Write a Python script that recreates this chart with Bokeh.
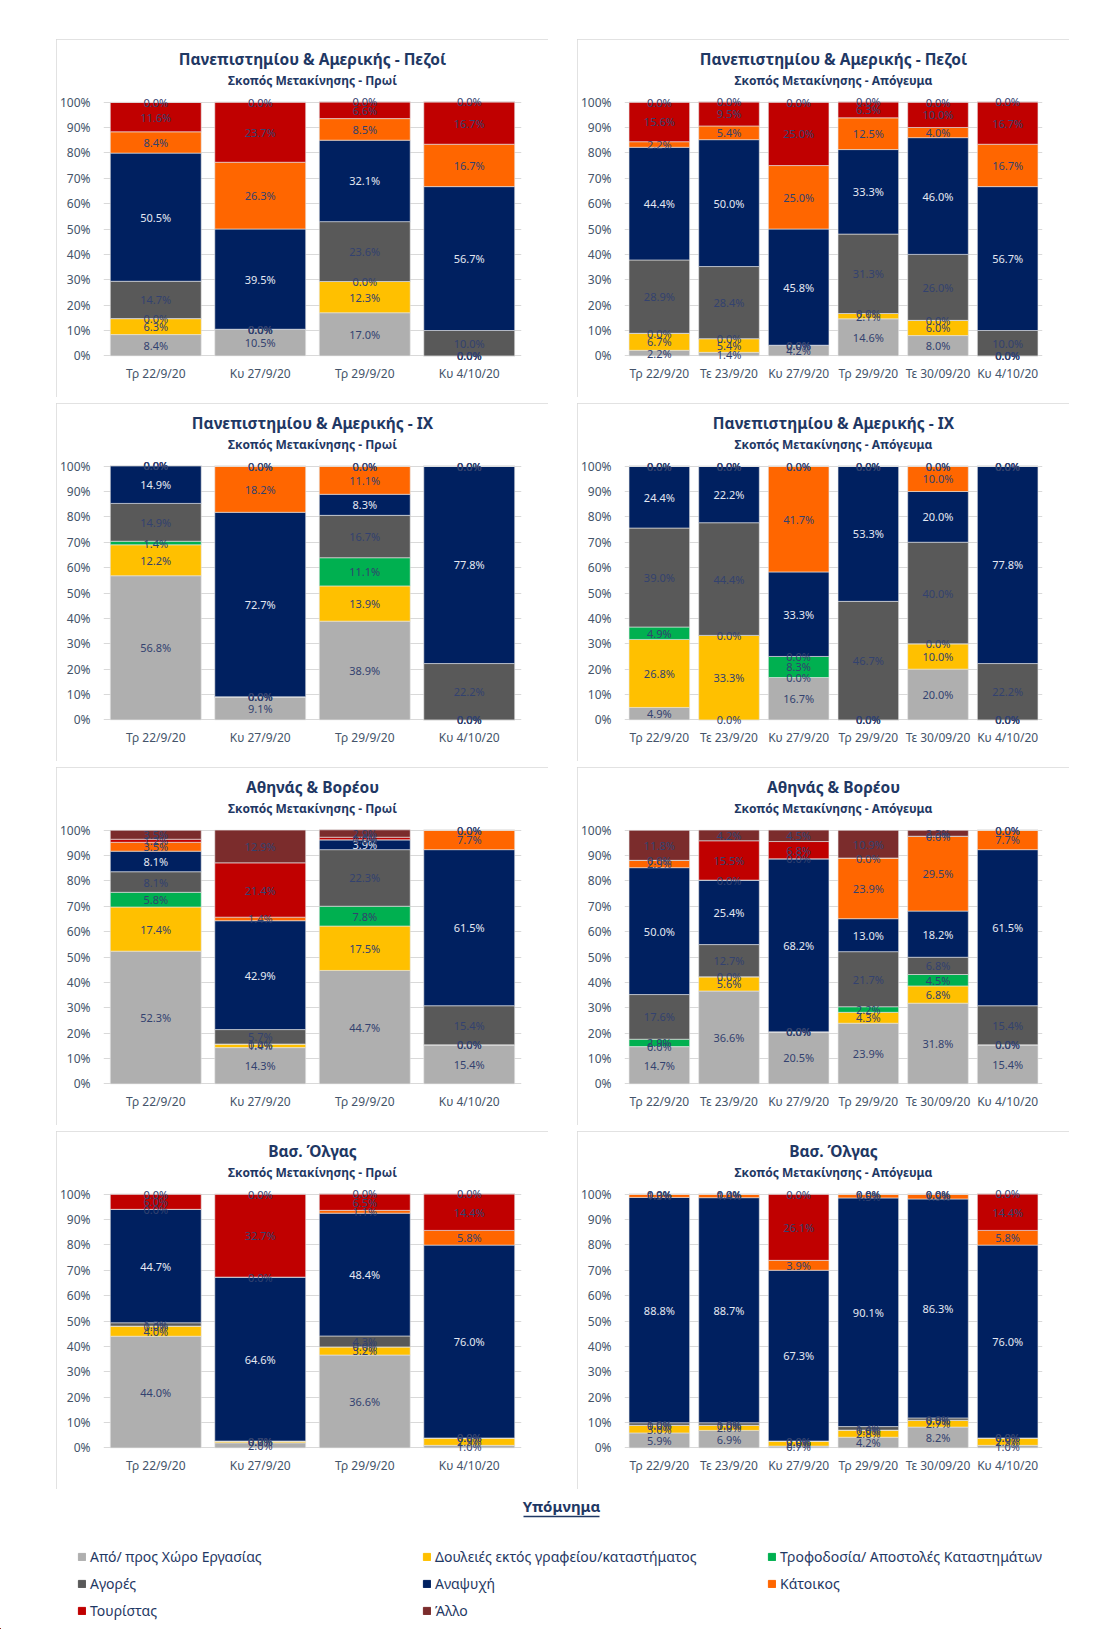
from bokeh.plotting import figure
from bokeh.models import (ColumnDataSource, FactorRange, Range1d, FixedTicker,
                          PrintfTickFormatter, Title, Legend, LegendItem, Spacer)
from bokeh.layouts import row, column
from bokeh.embed import file_html
from bokeh.resources import INLINE
from bokeh.core.properties import value

# ---------------- data ----------------
series = ["Από/ προς Χώρο Εργασίας", "Δουλειές εκτός γραφείου/καταστήματος",
          "Τροφοδοσία/ Αποστολές Καταστημάτων", "Αγορές", "Αναψυχή",
          "Κάτοικος", "Τουρίστας", "Άλλο"]
colors = ["#afafaf", "#ffc000", "#00b050", "#595959", "#002060",
          "#ff6600", "#c00000", "#7b2c2c"]

dates_morning = ["Τρ 22/9/20", "Κυ 27/9/20", "Τρ 29/9/20", "Κυ 4/10/20"]
dates_evening = ["Τρ 22/9/20", "Τε 23/9/20", "Κυ 27/9/20", "Τρ 29/9/20",
                 "Τε 30/09/20", "Κυ 4/10/20"]

# each panel: one list per series (bottom -> top), one value per date
pa_pezoi_proi = [
    [8.4, 10.5, 17.0, 0.0],
    [6.3, 0.0, 12.3, 0.0],
    [0.0, 0.0, 0.0, 0.0],
    [14.7, 0.0, 23.6, 10.0],
    [50.5, 39.5, 32.1, 56.7],
    [8.4, 26.3, 8.5, 16.7],
    [11.6, 23.7, 6.6, 16.7],
    [0.0, 0.0, 0.0, 0.0],
]
pa_pezoi_apogeuma = [
    [2.2, 1.4, 4.2, 14.6, 8.0, 0.0],
    [6.7, 5.4, 0.0, 2.1, 6.0, 0.0],
    [0.0, 0.0, 0.0, 0.0, 0.0, 0.0],
    [28.9, 28.4, 0.0, 31.3, 26.0, 10.0],
    [44.4, 50.0, 45.8, 33.3, 46.0, 56.7],
    [2.2, 5.4, 25.0, 12.5, 4.0, 16.7],
    [15.6, 9.5, 25.0, 6.3, 10.0, 16.7],
    [0.0, 0.0, 0.0, 0.0, 0.0, 0.0],
]
pa_ix_proi = [
    [56.8, 9.1, 38.9, 0.0],
    [12.2, 0.0, 13.9, 0.0],
    [1.4, 0.0, 11.1, 0.0],
    [14.9, 0.0, 16.7, 22.2],
    [14.9, 72.7, 8.3, 77.8],
    [0.0, 18.2, 11.1, 0.0],
    [0.0, 0.0, 0.0, 0.0],
    [0.0, 0.0, 0.0, 0.0],
]
pa_ix_apogeuma = [
    [4.9, 0.0, 16.7, 0.0, 20.0, 0.0],
    [26.8, 33.3, 0.0, 0.0, 10.0, 0.0],
    [4.9, 0.0, 8.3, 0.0, 0.0, 0.0],
    [39.0, 44.4, 0.0, 46.7, 40.0, 22.2],
    [24.4, 22.2, 33.3, 53.3, 20.0, 77.8],
    [0.0, 0.0, 41.7, 0.0, 10.0, 0.0],
    [0.0, 0.0, 0.0, 0.0, 0.0, 0.0],
    [0.0, 0.0, 0.0, 0.0, 0.0, 0.0],
]
ab_proi = [
    [52.3, 14.3, 44.7, 15.4],
    [17.4, 1.4, 17.5, 0.0],
    [5.8, 0.0, 7.8, 0.0],
    [8.1, 5.7, 22.3, 15.4],
    [8.1, 42.9, 3.9, 61.5],
    [3.5, 1.4, 0.0, 7.7],
    [1.2, 21.4, 1.0, 0.0],
    [3.5, 12.9, 2.9, 0.0],
]
ab_apogeuma = [
    [14.7, 36.6, 20.5, 23.9, 31.8, 15.4],
    [0.0, 5.6, 0.0, 4.3, 6.8, 0.0],
    [2.9, 0.0, 0.0, 2.2, 4.5, 0.0],
    [17.6, 12.7, 0.0, 21.7, 6.8, 15.4],
    [50.0, 25.4, 68.2, 13.0, 18.2, 61.5],
    [2.9, 0.0, 0.0, 23.9, 29.5, 7.7],
    [0.0, 15.5, 6.8, 0.0, 0.0, 0.0],
    [11.8, 4.2, 4.5, 10.9, 2.3, 0.0],
]
vo_proi = [
    [44.0, 2.0, 36.6, 1.0],
    [4.0, 0.7, 3.2, 2.9],
    [0.0, 0.0, 0.0, 0.0],
    [1.3, 0.0, 4.3, 0.0],
    [44.7, 64.6, 48.4, 76.0],
    [0.0, 0.0, 1.1, 5.8],
    [6.0, 32.7, 6.5, 14.4],
    [0.0, 0.0, 0.0, 0.0],
]
vo_apogeuma = [
    [5.9, 6.9, 0.7, 4.2, 8.2, 1.0],
    [3.0, 2.0, 2.0, 2.8, 2.7, 2.9],
    [0.0, 0.0, 0.0, 0.0, 0.0, 0.0],
    [1.0, 1.0, 0.0, 1.4, 0.9, 0.0],
    [88.8, 88.7, 67.3, 90.1, 86.3, 76.0],
    [1.3, 1.4, 3.9, 1.5, 1.9, 5.8],
    [0.0, 0.0, 26.1, 0.0, 0.0, 14.4],
    [0.0, 0.0, 0.0, 0.0, 0.0, 0.0],
]

title_pa_pezoi = "Πανεπιστημίου & Αμερικής - Πεζοί"
title_pa_ix = "Πανεπιστημίου & Αμερικής - ΙΧ"
title_ab = "Αθηνάς & Βορέου"
title_vo = "Βασ. Όλγας"
sub_proi = "Σκοπός Μετακίνησης - Πρωί"
sub_apogeuma = "Σκοπός Μετακίνησης - Απόγευμα"
y_ticks = [0, 10, 20, 30, 40, 50, 60, 70, 80, 90, 100]
legend_title = "Υπόμνημα"

# ---------------- style ----------------
NAVY = "#1f3864"
TICK = "#44546a"
LBL_DARK = "#33426f"
LBL_LIGHT = "#e4e8f2"
FONT = "Noto Sans"
PW, PH = 492, 358


def make_panel(title, subtitle, dates, values):
    keys = [f"s{i}" for i in range(len(series))]
    data = {"date": dates}
    for k, v in zip(keys, values):
        data[k] = v
    src = ColumnDataSource(data)

    p = figure(x_range=FactorRange(*dates), y_range=Range1d(-3, 103),
               width=PW, height=PH, output_backend="svg", toolbar_location=None,
               min_border_left=46, min_border_right=27, min_border_top=55,
               min_border_bottom=34, title=title)
    p.vbar_stack(keys, x="date", width=0.87, color=colors, source=src,
                 line_color="#e6e6e6", line_width=0.6)

    xs, ys, ts, cs = [], [], [], []
    for j, d in enumerate(dates):
        base = 0.0
        for i in range(len(series)):
            v = values[i][j]
            xs.append(d)
            ys.append(base + v / 2.0)
            ts.append(f"{v:.1f}%")
            cs.append(LBL_LIGHT if i == 4 else LBL_DARK)
            base += v
    p.text(x=xs, y=ys, text=ts, text_color=cs, text_align="center",
           text_baseline="middle", text_font=value(FONT), text_font_size="11px")

    p.title.text_font = FONT
    p.title.text_font_size = "15.5px"
    p.title.text_font_style = "bold"
    p.title.text_color = NAVY
    p.title.align = "center"
    p.title.standoff = -12
    p.add_layout(Title(text=subtitle, align="center", text_font=FONT,
                       text_font_size="12px", text_font_style="bold",
                       text_color=NAVY, standoff=12), "above")

    p.yaxis.ticker = FixedTicker(ticks=y_ticks)
    p.yaxis.formatter = PrintfTickFormatter(format="%d%%")
    for ax in (p.xaxis, p.yaxis):
        ax.axis_line_color = None
        ax.major_tick_line_color = None
        ax.minor_tick_line_color = None
        ax.major_tick_out = 0
        ax.major_tick_in = 0
        ax.minor_tick_out = 0
        ax.minor_tick_in = 0
        ax.axis_label_standoff = 0
        ax.major_label_text_font = FONT
        ax.major_label_text_font_size = "12px"
        ax.major_label_text_color = TICK
    p.yaxis.major_label_standoff = 13
    p.xaxis.major_label_standoff = 1
    p.xgrid.grid_line_color = None
    p.ygrid.grid_line_color = "#d9d9d9"
    p.outline_line_color = None
    p.styles = {"outline": "1px solid #d9d9d9", "outline-offset": "-1px"}
    return p


p1 = make_panel(title_pa_pezoi, sub_proi, dates_morning, pa_pezoi_proi)
p2 = make_panel(title_pa_pezoi, sub_apogeuma, dates_evening, pa_pezoi_apogeuma)
p3 = make_panel(title_pa_ix, sub_proi, dates_morning, pa_ix_proi)
p4 = make_panel(title_pa_ix, sub_apogeuma, dates_evening, pa_ix_apogeuma)
p5 = make_panel(title_ab, sub_proi, dates_morning, ab_proi)
p6 = make_panel(title_ab, sub_apogeuma, dates_evening, ab_apogeuma)
p7 = make_panel(title_vo, sub_proi, dates_morning, vo_proi)
p8 = make_panel(title_vo, sub_apogeuma, dates_evening, vo_apogeuma)

# ---------------- legend figure ----------------
LW, LH = 1100, 140
lp = figure(width=LW, height=LH, x_range=Range1d(0, LW), y_range=Range1d(0, LH),
            output_backend="svg", toolbar_location=None, x_axis_type=None,
            y_axis_type=None, min_border=0)
lp.grid.grid_line_color = None
lp.outline_line_color = None
lp.text(x=[561], y=[124], text=[legend_title], text_align="center",
        text_baseline="middle", text_font=value(FONT), text_font_size="15px",
        text_font_style="bold", text_color=NAVY)
lp.segment(x0=[523], y0=[113], x1=[599], y1=[113], line_color=NAVY, line_width=1.5)

items = []
for name, c in zip(series, colors):
    # off-screen dummy so the legend swatch is drawn
    r = lp.vbar(x=[-500], top=[1], bottom=[0], width=1, color=c)
    items.append(LegendItem(label=name, renderers=[r]))
legend = Legend(items=items, orientation="horizontal", ncols=3,
                glyph_width=9, glyph_height=9, label_standoff=4,
                label_width=325, label_height=20, spacing=7, padding=0,
                margin=0, border_line_color=None, background_fill_alpha=0,
                label_text_font=FONT, label_text_font_size="14px",
                label_text_color=NAVY, location=(77, 9))
lp.add_layout(legend)

layout = column(
    Spacer(height=39),
    row(Spacer(width=56), p1, Spacer(width=29), p2),
    Spacer(height=6),
    row(Spacer(width=56), p3, Spacer(width=29), p4),
    Spacer(height=6),
    row(Spacer(width=56), p5, Spacer(width=29), p6),
    Spacer(height=6),
    row(Spacer(width=56), p7, Spacer(width=29), p8),
    lp,
)

open("out.html", "w").write(file_html(layout, INLINE))
